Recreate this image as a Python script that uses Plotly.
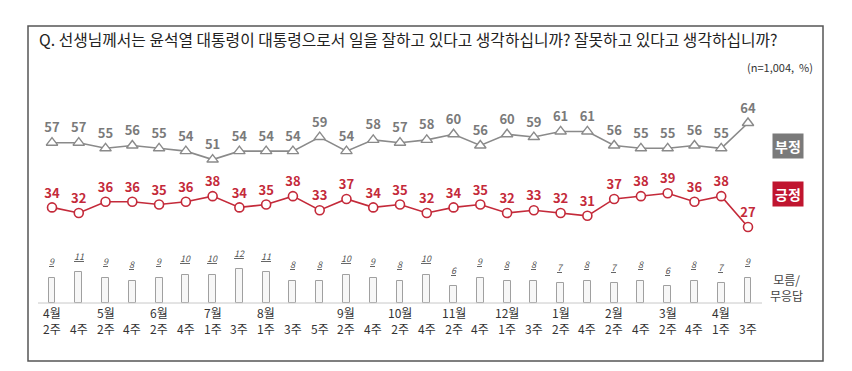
import plotly.graph_objects as go

months = ["4월", "", "5월", "", "6월", "", "7월", "", "8월", "", "", "9월", "", "10월", "",
          "11월", "", "12월", "", "1월", "", "2월", "", "3월", "", "4월", ""]
weeks = ["2주", "4주", "2주", "4주", "2주", "4주", "1주", "3주", "1주", "3주", "5주", "2주", "4주", "2주", "4주",
         "2주", "4주", "1주", "3주", "2주", "4주", "2주", "4주", "2주", "4주", "1주", "3주"]
negative = [57, 57, 55, 56, 55, 54, 51, 54, 54, 54, 59, 54, 58, 57, 58, 60, 56, 60, 59, 61, 61, 56, 55, 55, 56, 55, 64]
positive = [34, 32, 36, 36, 35, 36, 38, 34, 35, 38, 33, 37, 34, 35, 32, 34, 35, 32, 33, 32, 31, 37, 38, 39, 36, 38, 27]
unknown = [9, 11, 9, 8, 9, 10, 10, 12, 11, 8, 8, 10, 9, 8, 10, 6, 9, 8, 8, 7, 8, 7, 8, 6, 8, 7, 9]

x = list(range(len(weeks)))
FONT = "Noto Sans CJK KR"
GRAY = "#8a8a8a"
RED = "#c42a3a"

OFF = 8  # page body margin
W, H = 852 - 2 * OFF, 371 - 2 * OFF
# frame in page pixels: x 28..823, y 26..361
L, T = 28 - OFF, 26 - OFF
R, B = (W + OFF) - 823, (H + OFF) - 361
pw, ph = 823 - 28, 361 - 26

def px(xp):
    return (xp - 28) / pw

def py(yp):
    return (361 - yp) / ph

fig = go.Figure()

fig.add_trace(go.Bar(
    x=x, y=unknown, width=0.26,
    marker=dict(color="#f7f7f7", line=dict(color="#a0a0a0", width=1)),
    hoverinfo="skip",
))

fig.add_trace(go.Scatter(
    x=x, y=negative, mode="lines+markers+text",
    line=dict(color=GRAY, width=1.6),
    marker=dict(symbol="triangle-up", size=10, color="white", line=dict(color=GRAY, width=1.4)),
    text=[str(v) for v in negative], textposition="top center",
    textfont=dict(family=FONT, size=13, color="#7a7a7a", weight=600),
))

fig.add_trace(go.Scatter(
    x=x, y=positive, mode="lines+markers+text",
    line=dict(color=RED, width=1.6),
    marker=dict(symbol="circle", size=9, color="white", line=dict(color=RED, width=1.6)),
    text=[str(v) for v in positive], textposition="top center",
    textfont=dict(family=FONT, size=13, color=RED, weight=600),
))

annotations = []
for i, v in enumerate(unknown):
    annotations.append(dict(x=i, y=v, xref="x", yref="y", yshift=16, showarrow=False,
                            xanchor="center", yanchor="middle", text=str(v),
                            font=dict(family=FONT, size=9, color="#555", style="italic", lineposition="under")))
for i, (m, w) in enumerate(zip(months, weeks)):
    if m:
        annotations.append(dict(x=i, y=py(320.5), xref="x", yref="paper", xanchor="center", yanchor="middle",
                                showarrow=False, text=m + "<br>" + w,
                                font=dict(family=FONT, size=12, color="#333")))
    else:
        annotations.append(dict(x=i, y=py(328), xref="x", yref="paper", xanchor="center", yanchor="middle",
                                showarrow=False, text=w,
                                font=dict(family=FONT, size=12, color="#333")))

annotations += [
    dict(x=px(37), y=py(40), xref="paper", yref="paper", xanchor="left", yanchor="middle", showarrow=False,
         text="Q. 선생님께서는 윤석열 대통령이 대통령으로서 일을 잘하고 있다고 생각하십니까? 잘못하고 있다고 생각하십니까?",
         font=dict(family=FONT, size=15.8, color="#222")),
    dict(x=px(815), y=py(67), xref="paper", yref="paper", xanchor="right", yanchor="middle", showarrow=False,
         text="(n=1,004,  %)", font=dict(family=FONT, size=11, color="#333")),
    dict(x=px(788), y=py(146), xref="paper", yref="paper", xanchor="center", yanchor="middle", showarrow=False,
         text="<b>부정</b>", bgcolor="#7a7a7a", borderpad=2, font=dict(family=FONT, size=14, color="white")),
    dict(x=px(788), y=py(194), xref="paper", yref="paper", xanchor="center", yanchor="middle", showarrow=False,
         text="<b>긍정</b>", bgcolor="#c0152f", borderpad=2, font=dict(family=FONT, size=14, color="white")),
    dict(x=px(786), y=py(287), xref="paper", yref="paper", xanchor="center", yanchor="middle", showarrow=False,
         text="모름/<br>무응답", font=dict(family=FONT, size=12, color="#444")),
]

shapes = [
    dict(type="line", xref="paper", yref="y", x0=px(38), x1=px(762), y0=0, y1=0,
         line=dict(color="#c8c8c8", width=1)),
    dict(type="rect", xref="paper", yref="paper", x0=0, x1=1, y0=0, y1=1,
         line=dict(color="#555", width=1.5)),
]

# x range: first point at px 52, last at px 748
step = (748 - 52) / (len(x) - 1)
x0 = -(52 - 28) / step
x1 = (len(x) - 1) + (823 - 748) / step
# y range: 0 at px 303, 64 at px 123
ups = (303 - 123) / 64
y0 = -(361 - 303) / ups
y1 = (303 - 26) / ups

fig.update_layout(
    width=W, height=H,
    margin=dict(l=L, r=R, t=T, b=B),
    paper_bgcolor="white", plot_bgcolor="white",
    showlegend=False,
    xaxis=dict(range=[x0, x1], visible=False),
    yaxis=dict(range=[y0, y1], visible=False),
    annotations=annotations, shapes=shapes,
    bargap=0,
)

fig.write_html("out.html")
